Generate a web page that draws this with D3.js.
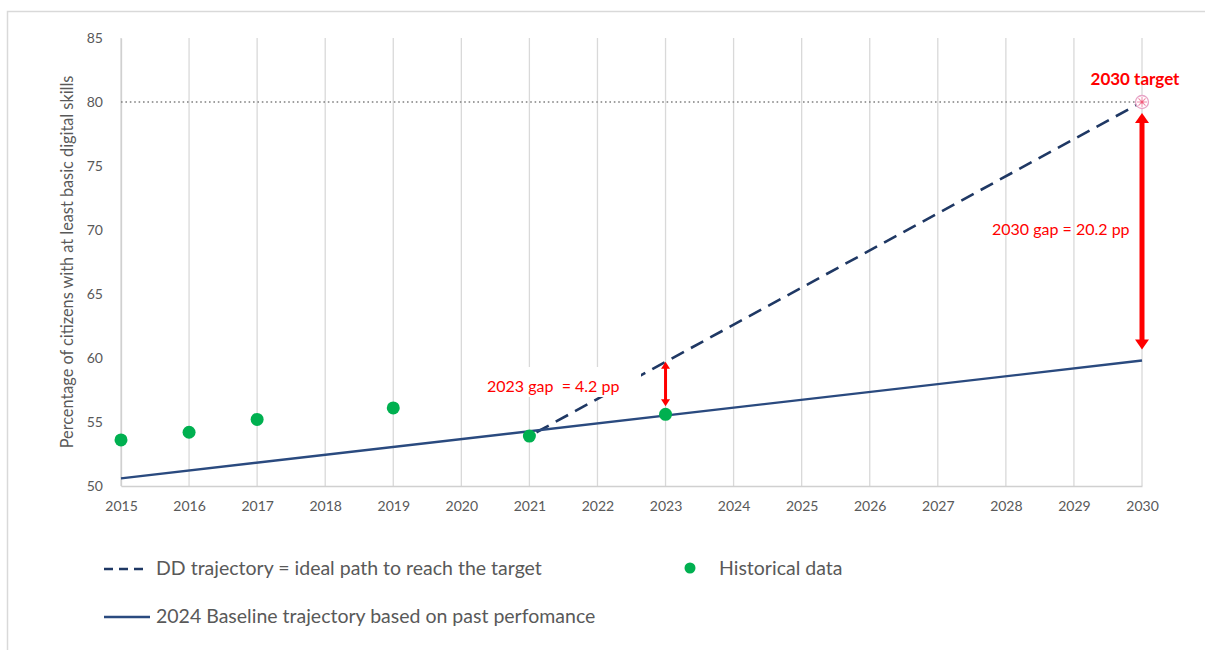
<!DOCTYPE html>
<meta charset="utf-8">
<style>
body { margin: 0; background: #fff; }
svg { font-family: Lato, "Open Sans", sans-serif; }
.axis text { fill: #595959; font-size: 14px; }
.axis path { stroke: #d0d0d0; stroke-width: 1.3; }
.grid line { stroke: #d9d9d9; stroke-width: 1.3; }
.legend text { fill: #595959; font-size: 19.5px; }
.gap-label { fill: #ff0000; font-size: 16px; white-space: pre; }
</style>
<svg width="1205" height="650"></svg>
<script src="https://d3js.org/d3.v7.min.js"></script>
<script>

// data
var years = [2015, 2016, 2017, 2018, 2019, 2020, 2021, 2022, 2023, 2024, 2025, 2026, 2027, 2028, 2029, 2030];
var yTicks = [50, 55, 60, 65, 70, 75, 80, 85];

var histYears = [2015, 2016, 2017, 2019, 2021, 2023];
var histValues = [53.6, 54.2, 55.2, 56.1, 53.9, 55.6];

var baselineYears = [2015, 2030];
var baselineValues = [50.6, 59.8];

var ddYears = [2021, 2030];
var ddValues = [53.9, 80];

var targetYear = 2030;
var targetValue = 80;

var gapYears = [2023, 2030];
var gapLow = [55.6, 59.8];
var gapHigh = [59.7, 80];
var gapLabels = ["2023 gap  = 4.2 pp", "2030 gap = 20.2 pp"];

var svg = d3.select("svg");

var x = d3.scaleLinear().domain([2015, 2030]).range([121, 1142]);
var y = d3.scaleLinear().domain([50, 85]).range([486, 38]);

// outer frame
svg.append("rect")
    .attr("x", 7.5).attr("y", 11.5)
    .attr("width", 1300).attr("height", 700)
    .attr("fill", "none")
    .attr("stroke", "#d9d9d9")
    .attr("stroke-width", 1.5);

// vertical grid
svg.append("g")
    .attr("class", "grid")
  .selectAll("line")
  .data(years)
  .enter().append("line")
    .attr("x1", function(d) { return x(d); })
    .attr("x2", function(d) { return x(d); })
    .attr("y1", y(85))
    .attr("y2", y(50));

// axes
svg.append("g")
    .attr("class", "axis")
    .attr("transform", "translate(" + x(2015) + ",0)")
    .call(d3.axisLeft(y).tickValues(yTicks).tickSize(0).tickPadding(18));

svg.append("g")
    .attr("class", "axis")
    .attr("transform", "translate(0," + y(50) + ")")
    .call(d3.axisBottom(x).tickValues(years).tickFormat(d3.format("d")).tickSize(0).tickPadding(15));

svg.selectAll(".axis text").style("font-family", "Lato, sans-serif");

// y axis title
svg.append("text")
    .attr("transform", "translate(73," + ((y(85) + y(50)) / 2) + ") rotate(-90)")
    .attr("text-anchor", "middle")
    .attr("fill", "#595959")
    .style("font-size", "16.3px")
    .text("Percentage of citizens with at least basic digital skills");

// 80% target dotted line
svg.append("line")
    .attr("x1", x(2015)).attr("x2", x(targetYear))
    .attr("y1", y(targetValue)).attr("y2", y(targetValue))
    .attr("stroke", "#808080")
    .attr("stroke-width", 1.5)
    .attr("stroke-dasharray", "1.6,2.8");

var line = d3.line()
    .x(function(d) { return x(d[0]); })
    .y(function(d) { return y(d[1]); });

// DD trajectory
svg.append("path")
    .datum(d3.zip(ddYears, ddValues))
    .attr("d", line)
    .attr("fill", "none")
    .attr("stroke", "#1F3864")
    .attr("stroke-width", 2.6)
    .attr("stroke-dasharray", "14,8")
    .attr("stroke-dashoffset", 14);

// baseline
svg.append("path")
    .datum(d3.zip(baselineYears, baselineValues))
    .attr("d", line)
    .attr("fill", "none")
    .attr("stroke", "#2A4A7F")
    .attr("stroke-width", 2.4);

// label box hiding part of the dashed line
svg.append("rect")
    .attr("x", 478).attr("y", 367)
    .attr("width", 163).attr("height", 30)
    .attr("fill", "#fff");

svg.append("text")
    .attr("class", "gap-label")
    .attr("x", 487).attr("y", 392)
    .text(gapLabels[0]);

svg.append("text")
    .attr("class", "gap-label")
    .attr("x", 992).attr("y", 235)
    .text(gapLabels[1]);

// historical dots
svg.append("g")
  .selectAll("circle")
  .data(d3.zip(histYears, histValues))
  .enter().append("circle")
    .attr("cx", function(d) { return x(d[0]); })
    .attr("cy", function(d) { return y(d[1]); })
    .attr("r", 6.5)
    .attr("fill", "#00B050");

// gap arrows
function arrow(xp, yTop, yBot, w, headW, headL) {
  var g = svg.append("g").attr("fill", "#ff0000");
  g.append("line")
      .attr("x1", xp).attr("x2", xp)
      .attr("y1", yTop + headL - 1).attr("y2", yBot - headL + 1)
      .attr("stroke", "#ff0000")
      .attr("stroke-width", w);
  g.append("path")
      .attr("d", "M" + xp + "," + yTop + "L" + (xp - headW / 2) + "," + (yTop + headL) + "L" + (xp + headW / 2) + "," + (yTop + headL) + "Z");
  g.append("path")
      .attr("d", "M" + xp + "," + yBot + "L" + (xp - headW / 2) + "," + (yBot - headL) + "L" + (xp + headW / 2) + "," + (yBot - headL) + "Z");
}
arrow(x(gapYears[0]), y(gapHigh[0]), y(gapLow[0]) - 8, 3, 9, 7);
arrow(x(gapYears[1]), y(gapHigh[1]) + 11, y(gapLow[1]) - 11, 5, 14, 10);

// target marker
var tx = x(targetYear), ty = y(targetValue);
var marker = svg.append("g").attr("transform", "translate(" + tx + "," + ty + ")");
marker.append("circle")
    .attr("r", 6.5)
    .attr("fill", "#fff")
    .attr("stroke", "#e7a3c6")
    .attr("stroke-width", 1.3);
[0, 45, 90, 135].forEach(function(a) {
  marker.append("line")
      .attr("x1", -5).attr("x2", 5)
      .attr("transform", "rotate(" + a + ")")
      .attr("stroke", "#f08aa8")
      .attr("stroke-width", 1);
});
marker.append("circle").attr("r", 1.5).attr("fill", "#f05a78");

svg.append("text")
    .attr("x", 1135).attr("y", 85)
    .attr("text-anchor", "middle")
    .attr("fill", "#ff0000")
    .style("font-size", "17px")
    .style("font-weight", "bold")
    .text("2030 target");

// legend
var legend = svg.append("g").attr("class", "legend");

legend.append("line")
    .attr("x1", 104).attr("x2", 149)
    .attr("y1", 569).attr("y2", 569)
    .attr("stroke", "#1F3864")
    .attr("stroke-width", 2.6)
    .attr("stroke-dasharray", "9,6");
legend.append("text")
    .attr("x", 156).attr("y", 575)
    .text("DD trajectory = ideal path to reach the target");

legend.append("circle")
    .attr("cx", 690).attr("cy", 568)
    .attr("r", 5.5)
    .attr("fill", "#00B050");
legend.append("text")
    .attr("x", 719).attr("y", 575)
    .text("Historical data");

legend.append("line")
    .attr("x1", 104).attr("x2", 150)
    .attr("y1", 617).attr("y2", 617)
    .attr("stroke", "#2A4A7F")
    .attr("stroke-width", 2.6);
legend.append("text")
    .attr("x", 156).attr("y", 623)
    .text("2024 Baseline trajectory based on past perfomance");

</script>
